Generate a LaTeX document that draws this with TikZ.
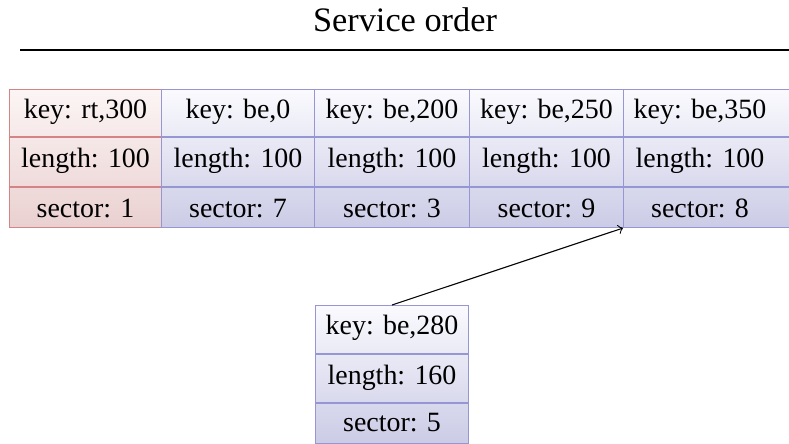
\documentclass[tikz,border=0pt]{standalone}
\usepackage{fontspec}
\setmainfont{Liberation Serif}
\usetikzlibrary{calc}
\definecolor{bluetop}{RGB}{250,250,254}
\definecolor{bluebot}{RGB}{203,203,230}
\definecolor{blueline}{RGB}{150,150,212}
\definecolor{redtop}{RGB}{252,245,245}
\definecolor{redbot}{RGB}{234,208,208}
\definecolor{redline}{RGB}{212,132,132}
\tikzset{
  bluebox/.style={draw=blueline, top color=bluetop, bottom color=bluebot, minimum height=138*0.376pt, anchor=north west, inner sep=0pt},
  redbox/.style={draw=redline, top color=redtop, bottom color=redbot, minimum height=138*0.376pt, anchor=north west, inner sep=0pt},
  celltext/.style={anchor=base, inner sep=0pt, font=\fontsize{10.5}{12}\selectfont},
}
\begin{document}
\begin{tikzpicture}[x=0.376pt,y=-0.376pt]
\useasboundingbox (0,0) rectangle (789,444);
% title
\node[anchor=base, inner sep=0pt, font=\fontsize{12.9}{15}\selectfont] (title) at (405,32) {Service order};
\coordinate (ruleL) at (20,50);
\coordinate (ruleR) at (789,50);
\draw[line width=0.5pt] (ruleL) -- (ruleR);

% boxes: name, left x, width, style, line colour, texts
\foreach \nm/\lx/\w/\st/\lc/\ka/\la/\sa in {
  r0/9/152/redbox/redline/{key: rt,300}/{length: 100}/{sector: 1},
  b1/161/153/bluebox/blueline/{key: be,0}/{length: 100}/{sector: 7},
  b2/314/155/bluebox/blueline/{key: be,200}/{length: 100}/{sector: 3},
  b3/469/154/bluebox/blueline/{key: be,250}/{length: 100}/{sector: 9}}{
  \node[\st, minimum width=\w*0.376pt] (\nm) at (\lx,89) {};
  \draw[draw=\lc] ($(\nm.north west)+(0,48)$) -- ($(\nm.north east)+(0,48)$);
  \draw[draw=\lc] ($(\nm.north west)+(0,98)$) -- ($(\nm.north east)+(0,98)$);
  \node[celltext] (\nm k) at ($(\nm.north)+(0,30)$) {\ka};
  \node[celltext] (\nm l) at ($(\nm.north)+(0,79)$) {\la};
  \node[celltext] (\nm s) at ($(\nm.north)+(0,129)$) {\sa};
}
% last box, cut off at the right edge
\node[bluebox, minimum width=172*0.376pt] (b4) at (623,89) {};
\draw[blueline] ($(b4.north west)+(0,48)$) -- ($(b4.north east)+(0,48)$);
\draw[blueline] ($(b4.north west)+(0,98)$) -- ($(b4.north east)+(0,98)$);
\node[celltext] (b4k) at (700,119) {key: be,350};
\node[celltext] (b4l) at (700,168) {length: 100};
\node[celltext] (b4s) at (700,218) {sector: 8};

% new request box
\node[bluebox, minimum width=153*0.376pt] (nb) at (315,305) {};
\draw[blueline] ($(nb.north west)+(0,49)$) -- ($(nb.north east)+(0,49)$);
\draw[blueline] ($(nb.north west)+(0,98)$) -- ($(nb.north east)+(0,98)$);
\node[celltext] (nbk) at ($(nb.north)+(0,30)$) {key: be,280};
\node[celltext] (nbl) at ($(nb.north)+(0,80)$) {length: 160};
\node[celltext] (nbs) at ($(nb.north)+(0,127)$) {sector: 5};

% arrow
\draw[->, >=to] (nb.north) -- (b4.south west);
\end{tikzpicture}
\end{document}
